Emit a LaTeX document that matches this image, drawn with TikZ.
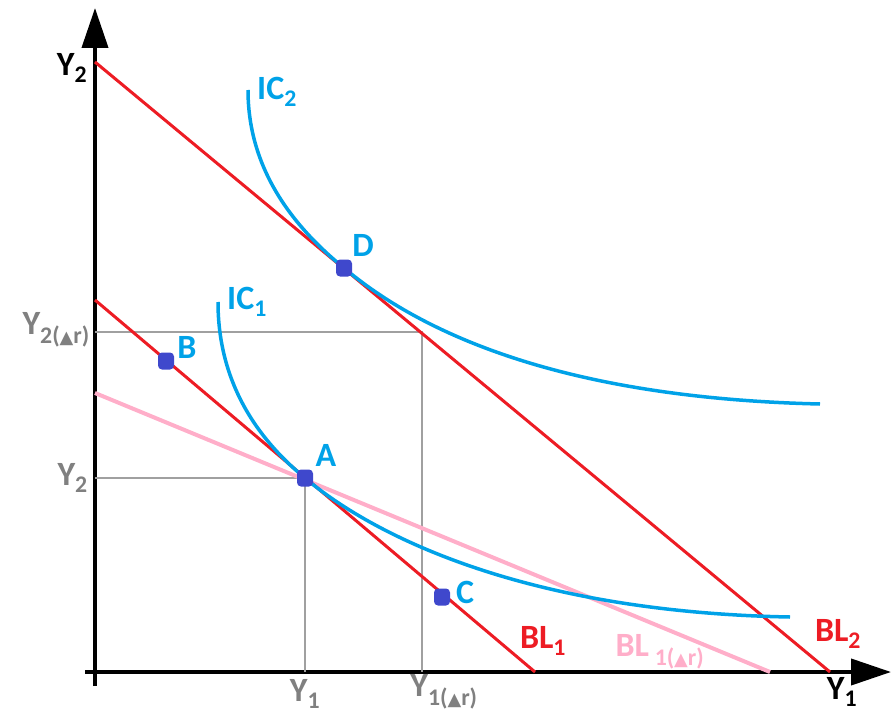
\documentclass[tikz,border=0pt]{standalone}
\usepackage{fontspec}
\usepackage{graphicx}
\setmainfont{Carlito}
\newfontfamily\symfont{DejaVu Sans}
\usetikzlibrary{arrows.meta}
\definecolor{blred}{HTML}{ED1C24}
\definecolor{icblue}{HTML}{00A2E8}
\definecolor{ptblue}{HTML}{3F48CC}
\definecolor{blpink}{HTML}{FFAEC9}
\definecolor{guidegray}{HTML}{A0A0A0}
\definecolor{labelgray}{HTML}{808080}
\newcommand{\dr}{({\symfont\scalebox{0.75}{▲}}r)}
\tikzset{
    axisline/.style={line width=4pt, -{Triangle[length=40pt, width=26pt]}},
    budget/.style={blred, line width=3pt},
    budgetdr/.style={blpink, line width=4pt},
    indiff/.style={icblue, line width=3.5pt},
    guide/.style={guidegray, line width=1.5pt},
    dot/.style={rectangle, rounded corners=4pt, fill=ptblue, minimum width=16pt,
    minimum height=17pt, inner sep=0pt},
    lbl/.style={font=\fontsize{34}{36}\selectfont\bfseries, inner sep=0pt},
    glbl/.style={lbl, text=labelgray},
}

\begin{document}
\begin{tikzpicture}[x=1pt, y=-1pt]

    \useasboundingbox (0,0) rectangle (891,714);

% =========================================================
% Axes
% =========================================================

        \coordinate (o)    at (95,672);
        \coordinate (ybot) at (95,686);
        \coordinate (ytop) at (95,8);
        \coordinate (xlft) at (85,672);
        \coordinate (xrgt) at (891,672);

        \draw[axisline] (ybot) -- (ytop);
        \draw[axisline] (xlft) -- (xrgt);

        \node[lbl] (y2top) at (72,68) {Y\textsubscript{2}};
        \node[lbl] (y1ax)  at (842,692) {Y\textsubscript{1}};

% =========================================================
% Points and guide lines
% =========================================================

        \coordinate (A) at (305,478);
        \coordinate (B) at (166,361);
        \coordinate (C) at (442,597);
        \coordinate (D) at (344,268);

        \coordinate (gA1) at (95,478);
        \coordinate (gA2) at (305,672);
        \coordinate (gD0) at (95,332);
        \coordinate (gD1) at (422,332);
        \coordinate (gD2) at (422,672);

        \draw[guide] (gA1) -- (A) -- (gA2);
        \draw[guide] (gD0) -- (gD1) -- (gD2);

        \node[glbl, anchor=east] (y2dr) at (90,330) {Y\textsubscript{2\dr}};
        \node[glbl, anchor=east] (y2)   at (88,478) {Y\textsubscript{2}};
        \node[glbl] (y1)   at (305,694) {Y\textsubscript{1}};
        \node[glbl] (y1dr) at (444,692) {Y\textsubscript{1\dr}};

% =========================================================
% Budget lines
% =========================================================

        \coordinate (bl2a) at (95,62);
        \coordinate (bl2b) at (830,672);
        \coordinate (bl1a) at (95,300);
        \coordinate (bl1b) at (535,672);
        \coordinate (bldra) at (95,393);
        \coordinate (bldrb) at (770,672);

        \draw[budgetdr] (bldra) -- (bldrb);
        \draw[budget] (bl2a) -- (bl2b);
        \draw[budget] (bl1a) -- (bl1b);

        \node[lbl, text=blred]  (bl1)   at (543,641) {BL\textsubscript{1}};
        \node[lbl, text=blpink] (bl1dr) at (660,652) {BL\,\textsubscript{1\dr}};
        \node[lbl, text=blred]  (bl2)   at (838,634) {BL\textsubscript{2}};

% =========================================================
% Indifference curves
% =========================================================

        \draw[indiff] (248,90) .. controls (248,175) and (300,232) .. (D)
            .. controls (420,332) and (560,398) .. (820,404);
        \draw[indiff] (218,302) .. controls (218,390) and (265,445) .. (A)
            .. controls (370,533) and (520,612) .. (790,617);

        \node[lbl, text=icblue, anchor=west] (ic2) at (257,92) {IC\textsubscript{2}};
        \node[lbl, text=icblue, anchor=west] (ic1) at (227,302) {IC\textsubscript{1}};

% =========================================================
% Points
% =========================================================

        \node[dot] (pA) at (A) {};
        \node[dot] (pB) at (B) {};
        \node[dot] (pC) at (C) {};
        \node[dot] (pD) at (D) {};

        \node[lbl, text=icblue] (lA) at (326,455) {A};
        \node[lbl, text=icblue] (lB) at (187,347) {B};
        \node[lbl, text=icblue] (lC) at (465,592) {C};
        \node[lbl, text=icblue] (lD) at (363,245) {D};

    \end{tikzpicture}
\end{document}
